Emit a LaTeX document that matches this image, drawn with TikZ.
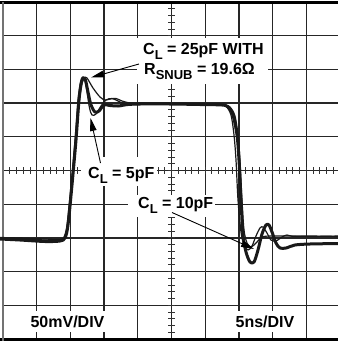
\documentclass[tikz,border=0pt]{standalone}
\usepackage{fontspec}
\setmainfont{Liberation Sans}
\usetikzlibrary{arrows.meta}
\newcommand\mysub[1]{\raisebox{-5pt}{\fontsize{13}{13}\selectfont #1}}
\begin{document}
\begin{tikzpicture}[x=1pt,y=-1pt,
  gridline/.style={line width=1.3pt,black!85},
  tickline/.style={line width=0.9pt,black!80},
  labeltext/.style={font=\fontsize{16}{18}\selectfont\bfseries,inner sep=0pt},
  whitebox/.style={fill=white,draw=none},
  thicktrace/.style={line width=3pt,black!90,line join=round},
  thintrace/.style={line width=1.2pt,black!90,line join=round},
  pointer/.style={line width=0.9pt,-{Triangle[length=13pt,width=6.5pt]}}]
\useasboundingbox (0,0) rectangle (338,341);
\clip (0,0) rectangle (338,341);
\fill[white] (0,0) rectangle (338,341);
% grid
\foreach \i in {1,...,9} {
  \draw[gridline] ({3+\i*33.7},2) -- ({3+\i*33.7},339);
  \draw[gridline] (3,{2+\i*33.7}) -- (340,{2+\i*33.7});
}
% ticks on the centre lines
\foreach \i in {1,...,49} {
  \draw[tickline] ({3+\i*6.74},167) -- ({3+\i*6.74},174);
  \draw[tickline] (168,{2+\i*6.74}) -- (175,{2+\i*6.74});
}
% border
\draw[line width=3pt,black] (0,2.5) -- (340,2.5);
\draw[line width=3pt,black] (0,339) -- (340,339);
\draw[line width=2pt,black!55] (2.5,2) -- (2.5,341);
% label backgrounds
\fill[whitebox] (137,38) rectangle (268,84);
\fill[whitebox] (81,157) rectangle (157,186);
\fill[whitebox] (128,195) rectangle (215,217);
\fill[whitebox] (28,311) rectangle (108,332);
\fill[whitebox] (232,311) rectangle (298,332);
% labels
\node[labeltext,anchor=base west] (l25) at (143,54) {C\mysub{L} = 25pF WITH};
\node[labeltext,anchor=base west] (lsnub) at (144,74) {R\mysub{SNUB} = 19.6Ω};
\node[labeltext,anchor=base west] (l5) at (88,178) {C\mysub{L} = 5pF};
\node[labeltext,anchor=base west] (l10) at (138,208.5) {C\mysub{L} = 10pF};
\node[labeltext,anchor=base] (lv) at (67.5,327) {50mV/DIV};
\node[labeltext,anchor=base] (lt) at (265,327) {5ns/DIV};
% traces
\draw[thicktrace] plot[smooth,tension=0.5] coordinates {
(0,239) (20,240) (45,241.5) (60,241) (65,238) (68,225) (72,185) (76,140) (79,100) (81.5,82) (83.5,78) (85.5,80) (88,92) (91,105) (95,112) (99,111) (104,105) (110,105.5) (118,106) (128,104.5) (140,104) (170,104) (200,104.5) (222,105) (228,107) (233,115) (237,135) (239,160) (241,200) (243,235) (246,252) (250,262) (254,262) (258,250) (262,234) (266,225) (269,225) (272,232) (276,243) (280,248) (286,248) (295,245) (310,244) (340,243.5)};
\draw[thintrace] plot[smooth,tension=0.5] coordinates {
(0,238) (20,238.5) (45,240) (60,240) (64,237) (67,225) (71,185) (75,140) (78,100) (80.5,82) (82.5,77) (84.5,79) (87,92) (89.5,108) (92,115) (96,114) (101,106) (106,100) (112,98.5) (118,101) (125,104) (135,104.5) (170,103.5) (200,103.5) (220,104) (226,106) (231,115) (234,135) (236,160) (238,200) (241,232) (244,245) (248,250) (252,246) (256,236) (260,228) (263,227) (267,233) (271,240) (276,241) (282,237) (287,235) (293,236.5) (310,236.5) (340,236)};
\draw[thintrace] plot[smooth,tension=0.5] coordinates {
(0,237.5) (20,238) (45,239) (60,239.5) (65,237) (68,225) (72,185) (76,140) (79.5,100) (82,83) (84.5,78) (87,78) (93,88) (100,97) (105,100) (110,99) (116,98.5) (122,101) (130,103) (140,103.5) (170,104) (200,104.5) (224,105) (230,107) (235,116) (238,135) (240,160) (242,200) (244,230) (247,243) (251,247) (256,243) (262,237) (270,236) (285,236) (310,236) (340,236.5)};
% pointers
\coordinate (p25s) at (139,64);
\coordinate (p25e) at (91,77.5);
\coordinate (p5s) at (100.5,163);
\coordinate (p5e) at (90.5,118);
\coordinate (p10s) at (172,212.5);
\coordinate (p10e) at (254,249);
\draw[pointer] (p25s) -- (p25e);
\draw[pointer] (p5s) -- (p5e);
\draw[pointer] (p10s) -- (p10e);
\end{tikzpicture}
\end{document}
